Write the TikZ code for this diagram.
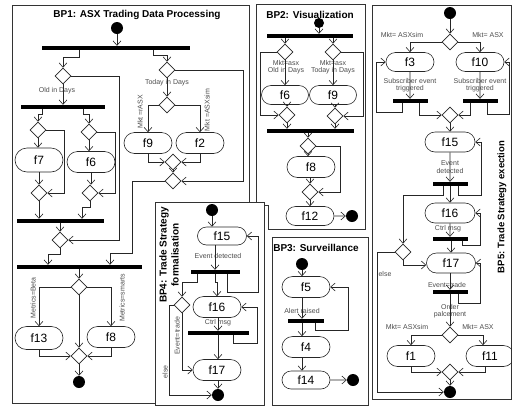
\documentclass[tikz,border=0pt]{standalone}
\usepackage{fontspec}
\setmainfont{Liberation Sans}
\usetikzlibrary{arrows.meta,shapes.geometric,shapes.misc}
\begin{document}
\begin{tikzpicture}[x=1pt,y=-1pt,
 conn/.style={draw=black!85, line width=0.6pt},
 arr/.style={conn, -{Straight Barb[length=4.5pt,width=8pt]}},
 frame/.style={draw=black!80, line width=0.8pt},
 fbox/.style={draw=black!85, line width=0.6pt, rounded rectangle, minimum width=48pt, minimum height=21pt, inner sep=0pt, font=\fontsize{12}{12}\selectfont},
 dia/.style={draw=black!85, line width=0.6pt, diamond, minimum width=16pt, minimum height=16pt, inner sep=0pt},
 bar/.style={fill=black, inner sep=0pt, minimum height=4pt},
 dot/.style={circle, fill=black, minimum size=12pt, inner sep=0pt},
 lbl/.style={font=\fontsize{7}{7.6}\selectfont, text=black!70, inner sep=0pt},
 ttl/.style={font=\bfseries\fontsize{10}{12}\selectfont, inner sep=0pt}]
\useasboundingbox (0,0) rectangle (512,408);

% ---------- frames ----------
\draw[frame] (12,5) rectangle (249,403);
\draw[frame] (256,4) -- (365,4) -- (365,229) -- (268,229) -- (268,205) -- (256,205) -- cycle;
\draw[frame] (272,237) rectangle (368,405);
\draw[frame] (372,5) rectangle (511,399);

% ---------- BP1 ----------
\node[ttl] (t1) at (137,15) {BP1: ASX Trading Data Processing};
\node[dot] (s1) at (117,28) {};
\node[bar, minimum width=148pt] (b1) at (116,48) {};
\draw[arr] (s1) -- (s1 |- b1.north);
\node[dia] (d1) at (63,76) {};
\node[dia] (d2) at (167,70) {};
\draw[arr] ([xshift=-37pt]b1.south) -- ++(0,7) -| (d1.north);
\draw[arr] ([xshift=37pt]b1.south) -- ++(0,5) -| (d2.north);
\node[lbl] (l1) at (57,91) {Old in Days};
\node[bar, minimum width=84pt] (b2) at (63,107) {};
\draw[arr] (d1.south) -- (d1.south |- b2.north);
\node[dia] (d3) at (38,130) {};
\node[dia] (d4) at (89,132) {};
\draw[arr] ([xshift=-21pt]b2.south) -- ++(0,5) -| (d3.north);
\draw[arr] ([xshift=20pt]b2.south) -- ++(0,5) -| (d4.north);
\node[fbox, minimum height=24pt] (f7) at (39,160) {f7};
\node[fbox] (f6) at (91,162) {f6};
\draw[arr] (d3.south) -- (d3.south |- f7.north);
\draw[arr] (d4.south) -- (d4.south |- f6.north);
\node[dia] (d5) at (39,193) {};
\node[dia] (d6) at (90,193) {};
\draw[arr] (f7.south) -- (f7.south |- d5.north);
\draw[arr] (f6.south) -- (f6.south |- d6.north);
\draw[arr] (d3.east) -- ++(18,0) |- (d5.east);
\draw[arr] (d4.east) -- ++(18,0) |- (d6.east);
\node[bar, minimum width=87pt] (b3) at (60,221) {};
\draw[arr] (d5.south) -- (d5.south |- b3.north);
\draw[arr] (d6.south) -- ++(0,6) -| ([xshift=22pt]b3.north);
\node[dia] (d7) at (60,240) {};
\draw[arr] (b3.south -| d7.north) -- (d7.north);
\draw[arr] (d1.east) -- ++(48,0) |- (d7.east);
\node[bar, minimum width=125pt] (b4) at (79,267) {};
\draw[arr] (d7.south) -- ++(0,6) -| ([xshift=-31pt]b4.north);

\node[lbl] (l2) at (167,83) {Today in Days};
\node[dia] (d8) at (167,105) {};
\draw[arr] (d2) -- (d8);
\node[fbox] (f9) at (148,143) {f9};
\node[fbox] (f2) at (200,143) {f2};
\draw[arr] (d8.west) -| (f9.north);
\draw[arr] (d8.east) -| (f2.north);
\node[lbl, rotate=90] (l3) at (140,112) {Mkt =rASX};
\node[lbl, rotate=90] (l4) at (207,110) {Mkt =ASXsim};
\node[dia] (dm1) at (173,162) {};
\draw[arr] (f9.south) |- (dm1.west);
\draw[arr] (f2.south) |- (dm1.east);
\node[dia] (d9) at (173,181) {};
\draw[arr] (dm1) -- (d9);
\draw[arr] (d2.east) -- ++(68,0) |- (d9.east);
\draw[arr] (d9.west) -- ++(-32,0) -- ++(0,72) -| ([xshift=31pt]b4.north);

\node[dia] (d10) at (79,287) {};
\draw[arr] (b4.south -| d10.north) -- (d10.north);
\node[fbox, minimum height=23pt] (f13) at (39,338) {f13};
\node[fbox] (f8) at (111,337) {f8};
\draw[arr] (d10.west) -| (f13.north);
\draw[arr] (d10.east) -| (f8.north);
\node[lbl, rotate=90] (l5) at (33,298) {Metrics=Beta};
\node[lbl, rotate=90] (l6) at (122,298) {Metrics=smarts};
\node[dia] (d11) at (79,356) {};
\draw[arr] (d10) -- (d11);
\draw[arr] (f13.south) |- (d11.west);
\draw[arr] (f8.south) |- (d11.east);
\node[dot] (e1) at (79,382) {};
\draw[arr] (d11) -- (e1);

% ---------- BP2 ----------
\node[ttl] (t2) at (310,15) {BP2: Visualization};
\node[dot, minimum size=10pt] (s2) at (319,23) {};
\node[bar, minimum width=86pt] (bb1) at (310,36) {};
\draw[arr] (s2) -- (s2 |- bb1.north);
\node[dia] (dl) at (285,52) {};
\node[dia] (dr) at (333,52) {};
\draw[arr] (bb1.south -| dl.north) -- (dl.north);
\draw[arr] (bb1.south -| dr.north) -- (dr.north);
\node[lbl, align=center] (l7) at (286,67) {Mkt=asx\\Old in Days};
\node[lbl, align=center] (l8) at (333,67) {Mkt=asx\\Today in Days};
\node[fbox, minimum width=47pt, minimum height=19pt] (g6) at (285,95) {f6};
\node[fbox, minimum width=47pt, minimum height=19pt] (g9) at (333,95) {f9};
\draw[arr] (dl.south) -- (dl.south |- g6.north);
\draw[arr] (dr.south) -- (dr.south |- g9.north);
\node[dia] (ml) at (287,115) {};
\node[dia] (mr) at (335,116) {};
\draw[arr] (g6.south -| ml) -- (ml.north);
\draw[arr] (g9.south -| mr) -- (mr.north);
\draw[arr] (dl.west) -- ++(-16,0) |- (ml.west);
\draw[arr] (dr.east) -- ++(22,0) |- (mr.east);
\node[bar, minimum width=87pt] (bb2) at (310,131) {};
\draw[arr] (ml.south) -- (ml.south |- bb2.north);
\draw[arr] (mr.south) -- (mr.south |- bb2.north);
\node[dia] (d3b) at (308,146) {};
\draw[arr] (bb2.south -| d3b.north) -- (d3b.north);
\node[fbox] (g8) at (311,167) {f8};
\draw[arr] (d3b.south) -- (d3b.south |- g8.north);
\node[dia] (d4b) at (310,192) {};
\draw[arr] (g8.south -| d4b) -- (d4b.north);
\draw[arr] (d3b.east) -- ++(24,0) |- (d4b.east);
\node[fbox, minimum height=19pt] (g12) at (310,216) {f12};
\draw[arr] (d4b.south) -- (d4b.south |- g12.north);
\node[dot] (e2) at (352,216) {};
\draw[arr] (g12) -- (e2);

% ---------- BP3 ----------
\node[ttl] (t3) at (316,248) {BP3: Surveillance};
\node[dot] (s3) at (302,264) {};
\node[fbox] (c5) at (306,287) {f5};
\draw[arr] (s3) -- (s3 |- c5.north);
\node[lbl] (l9) at (302,311) {Alert raised};
\node[bar, minimum width=36pt] (cb) at (306,321) {};
\draw[arr] (c5.south -| s3) -- (s3 |- cb.north);
\node[fbox] (c4) at (306,347) {f4};
\draw[arr] (cb.south -| s3) -- (s3 |- c4.north);
\draw[arr] ([xshift=9pt]cb.south) -- ++(0,7) -- ++(33,0) |- (c5.east);
\node[fbox, minimum height=18pt] (c14) at (306,380) {f14};
\draw[arr] (c4.south -| s3) -- (s3 |- c14.north);
\node[dot] (e3) at (353,380) {};
\draw[arr] (c14) -- (e3);

% ---------- BP4 ----------
\draw[frame, fill=white] (155,202) rectangle (264,405);
\node[ttl, rotate=90, align=center] (t4) at (169,255) {BP4: Trade Strategy\\formalisation};
\node[dot] (s4) at (212,210) {};
\node[fbox, minimum width=49pt, minimum height=18pt] (k15) at (222,236) {f15};
\draw[arr] (s4) -- (s4 |- k15.north);
\node[lbl] (l10) at (218,256) {Event detected};
\node[bar, minimum width=49pt] (kb1) at (215,272) {};
\draw[arr] (k15.south -| kb1) -- (kb1.north);
\draw[arr] ([xshift=12pt]kb1.south) -- ++(0,18) -- ++(31,0) |- (k15.east);
\node[fbox] (k16) at (217,307) {f16};
\draw[arr] (kb1.south) -- ++(0,8) -| (k16.north);
\node[dia] (kd) at (182,305) {};
\draw[arr] ([xshift=-18pt]kb1.south) -- ++(0,8) -| (kd.north);
\node[lbl] (l11) at (218,323) {Ctrl msg};
\node[bar, minimum width=61pt] (kb2) at (218,333) {};
\draw[arr] (k16.south -| kb2) -- (kb2.north);
\draw[arr] ([xshift=15pt]kb2.south) -- ++(0,8) -- ++(24,0) |- (k16.east);
\node[fbox] (k17) at (217,370) {f17};
\draw[arr] (kb2.south) -- (kb2.south |- k17.north);
\node[dot] (e4) at (218,395) {};
\draw[arr] (k17.south -| e4) -- (e4);
\draw[arr] (kd.south) |- (k17.west);
\draw[arr] (kd.west) -- ++(-4,0) |- (e4.west);
\node[lbl, rotate=90] (l12) at (177,336) {Event=trade};
\node[lbl, rotate=90] (l13) at (165,372) {else};

% ---------- BP5 ----------
\node[dot] (s5) at (450,13) {};
\node[dia] (hd) at (450,42) {};
\draw[arr] (s5) -- (hd);
\node[fbox, minimum height=19pt] (p3) at (410,62) {f3};
\node[fbox, minimum height=19pt] (p10) at (480,62) {f10};
\draw[arr] (hd.west) -| (p3.north);
\draw[arr] (hd.east) -| (p10.north);
\node[lbl] (l14) at (402,35) {Mkt= ASXsim};
\node[lbl] (l15) at (488,35) {Mkt= ASX};
\node[lbl, align=center] (l16) at (410,85) {Subscriber event\\triggered};
\node[lbl, align=center] (l17) at (480,85) {Subscriber event\\triggered};
\node[bar, minimum width=35pt] (pbl) at (410,101) {};
\node[bar, minimum width=35pt] (pbr) at (480,101) {};
\draw[arr] (p3) -- (pbl);
\draw[arr] (p10) -- (pbr);
\node[dia] (pm) at (450,115) {};
\draw[arr] ([xshift=-8pt]pbl.south) -- ++(0,9) -- ++(-26,0) |- (p3.west);
\draw[arr] ([xshift=9pt]pbl.south) |- (pm.west);
\draw[arr] ([xshift=-10pt]pbr.south) |- (pm.east);
\draw[arr] ([xshift=7pt]pbr.south) -- ++(0,11) -- ++(22,0) |- (p10.east);
\node[fbox, minimum width=50pt, minimum height=20pt] (p15) at (450,142) {f15};
\draw[arr] (pm) -- (p15);
\node[lbl, align=center] (l18) at (450,167) {Event\\detected};
\node[bar, minimum width=35pt] (pbe) at (450,184) {};
\draw[arr] (p15) -- (pbe);
\draw[arr] ([xshift=8pt]pbe.south) -- ++(0,9) -- ++(23,0) |- (p15.east);
\node[fbox, minimum width=50pt, minimum height=20pt] (p16) at (450,213) {f16};
\draw[arr] (pbe) -- (p16);
\node[dia] (pd) at (403,252) {};
\draw[arr] ([xshift=-7pt]pbe.south) -- ++(0,9) -| (pd.north);
\node[lbl] (l19) at (448,229) {Ctrl msg};
\node[bar, minimum width=35pt] (pbc) at (450,239) {};
\draw[arr] (p16) -- (pbc);
\draw[arr] ([xshift=12pt]pbc.south) -- ++(0,4) -- ++(18,0) |- (p16.east);
\node[fbox, minimum width=49pt, minimum height=20pt] (p17) at (451,263) {f17};
\draw[arr] (pbc.south -| p17) -- (p17.north);
\draw[arr] (pd.south) |- ([yshift=-2pt]p17.west);
\node[dot] (e5) at (450,392) {};
\draw[arr] (pd.west) -- ++(-17,0) |- (e5.west);
\node[lbl] (l20) at (385,274) {else};
\node[lbl] (l21) at (447,285) {Event=trade};
\node[bar, minimum width=35pt] (pbt) at (450,292) {};
\draw[arr] (p17.south -| pbt) -- (pbt.north);
\draw[arr] ([xshift=8pt]pbt.south) -- ++(0,9) -- ++(22,0) |- (p17.east);
\node[lbl, align=center] (l22) at (450,311) {Order\\palcement};
\node[dia] (pd2) at (450,335) {};
\draw[arr] (pbt) -- (pd2);
\node[fbox] (p1) at (411,356) {f1};
\node[fbox] (p11) at (490,356) {f11};
\draw[arr] (pd2.west) -| (p1.north);
\draw[arr] (pd2.east) -| ([xshift=-7pt]p11.north);
\node[lbl] (l23) at (407,327) {Mkt= ASXsim};
\node[lbl] (l24) at (478,327) {Mkt= ASX};
\node[dia] (pm2) at (450,372) {};
\draw[arr] (p1.south) |- (pm2.west);
\draw[arr] ([xshift=-5pt]p11.south) |- (pm2.east);
\draw[arr] (pm2) -- (e5);
\node[ttl, font=\bfseries\fontsize{9.5}{11}\selectfont, rotate=90] (t5) at (502,207) {BP5: Trade Strategy exection};
\end{tikzpicture}
\end{document}
